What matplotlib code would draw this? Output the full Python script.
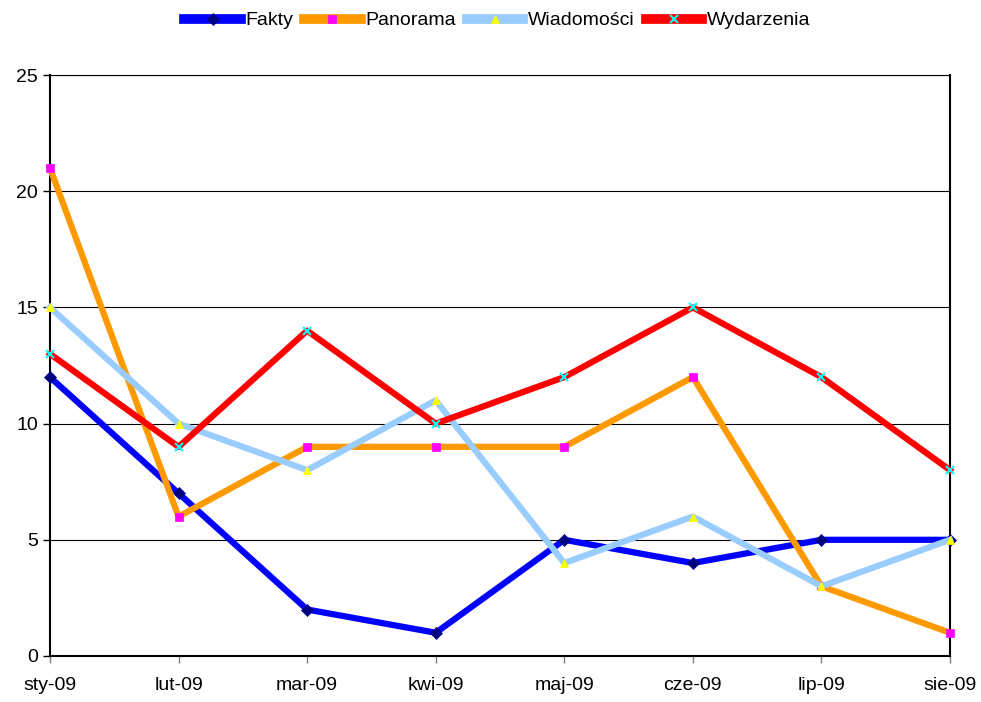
import matplotlib
matplotlib.use("Agg")
import matplotlib.pyplot as plt

plt.rcParams["font.family"] = ["Liberation Sans", "DejaVu Sans"]

months = ["sty-09", "lut-09", "mar-09", "kwi-09", "maj-09", "cze-09", "lip-09", "sie-09"]
fakty = [12, 7, 2, 1, 5, 4, 5, 5]
panorama = [21, 6, 9, 9, 9, 12, 3, 1]
wiadomosci = [15, 10, 8, 11, 4, 6, 3, 5]
wydarzenia = [13, 9, 14, 10, 12, 15, 12, 8]

series = [
    ("Fakty", fakty, "#0000FF", "D", "#000080"),
    ("Panorama", panorama, "#FF9900", "s", "#FF00FF"),
    ("Wiadomości", wiadomosci, "#99CCFF", "^", "#FFFF00"),
    ("Wydarzenia", wydarzenia, "#FF0000", "x", "#00FFFF"),
]

fig = plt.figure(figsize=(9.81, 7.02), dpi=100)
ax = fig.add_axes([50 / 981, 1 - 656 / 702, 900 / 981, (656 - 75) / 702])

x = list(range(len(months)))
for name, vals, col, mk, mcol in series:
    ax.plot(x, vals, color=col, linewidth=4.5, marker=mk, markersize=6,
            markerfacecolor=mcol, markeredgecolor=mcol, markeredgewidth=1.5 if mk == "x" else 0.5,
            label=name, clip_on=False, zorder=3)

ax.set_xlim(0, len(months) - 1)
ax.set_ylim(0, 25)
ax.set_xticks(x)
ax.set_xticklabels(months, fontsize=14)
ax.set_yticks(range(0, 26, 5))
ax.tick_params(axis="y", labelsize=14, direction="out", length=5, width=1)
ax.tick_params(axis="x", direction="out", length=5, width=1, pad=10, color="#808080")
ax.yaxis.grid(True, color="black", linewidth=0.8)
for s in ["left", "bottom", "right"]:
    ax.spines[s].set_linewidth(1.5)
ax.spines["top"].set_linewidth(0.8)

leg = fig.legend(loc="upper center", bbox_to_anchor=(0.507, 1.008), ncol=4, frameon=False,
                 fontsize=14, handlelength=2.9, handletextpad=0.25, columnspacing=0.55)
for h in leg.legend_handles:
    h.set_linewidth(7)

fig.savefig("out.png", dpi=100)
